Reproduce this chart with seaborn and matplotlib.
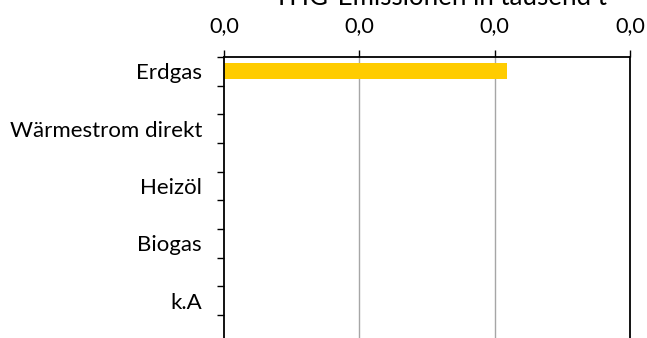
import matplotlib
matplotlib.use("Agg")
import matplotlib.pyplot as plt
import seaborn as sns
import pandas as pd
from matplotlib.ticker import FuncFormatter, FixedLocator

# Emissions by energy source (thousand tonnes)
categories = ["Erdgas", "Wärmestrom direkt", "Heizöl", "Biogas", "k.A"]
emissions = [0.0209, 0.0, 0.0, 0.0, 0.0]
x_ticks = [0.0, 0.01, 0.02, 0.03]
title = "THG-Emissionen in tausend t"

df = pd.DataFrame({"Energieträger": categories, "Emissionen": emissions})

sns.set_theme(style="white")
plt.rcParams["font.family"] = ["Lato", "DejaVu Sans"]

W, H = 647, 338
fig = plt.figure(figsize=(W / 100, H / 100), dpi=100)
ax = fig.add_axes([224 / W, 0.0, (630 - 224) / W, 1 - 57 / H])

sns.barplot(data=df, x="Emissionen", y="Energieträger", orient="h",
            color="#FFCC00", saturation=1, width=0.28, linewidth=0,
            ax=ax, zorder=3)

ax.set_xlim(x_ticks[0], x_ticks[-1])
ax.set_ylim(4.654, -0.25)

# value axis on top, German decimal comma
ax.xaxis.tick_top()
ax.xaxis.set_major_locator(FixedLocator(x_ticks))
ax.xaxis.set_major_formatter(FuncFormatter(lambda v, p: f"{v:.1f}".replace(".", ",")))
ax.tick_params(axis="x", which="major", top=True, bottom=False, length=5,
               width=1.0, color="black", labelsize=15.6, pad=10, labelcolor="#000000")
ax.set_xlabel("")
ax.set_ylabel("")

# category axis: labels without ticks, separators between groups
ax.tick_params(axis="y", which="major", left=False, length=0, labelsize=16,
               pad=15.8, labelcolor="#000000")
minor = []
for i in range(len(categories)):
    minor += [i - 0.25, i + 0.25]
ax.yaxis.set_minor_locator(FixedLocator(minor))
ax.tick_params(axis="y", which="minor", left=True, length=5, width=1.0, color="black")

ax.grid(False)
for xv in x_ticks[1:-1]:
    ax.axvline(xv, color="#A6A6A6", lw=1.0, zorder=1)

for side in ["top", "left", "right"]:
    ax.spines[side].set_visible(True)
    ax.spines[side].set_color("black")
    ax.spines[side].set_linewidth(1.3)
    ax.spines[side].set_zorder(4)
ax.spines["bottom"].set_visible(False)

fig.text(440 / W, 1 - 5 / H, title, ha="center", va="baseline",
         fontsize=18.6, color="#000000")

fig.savefig("out.png", dpi=100)
